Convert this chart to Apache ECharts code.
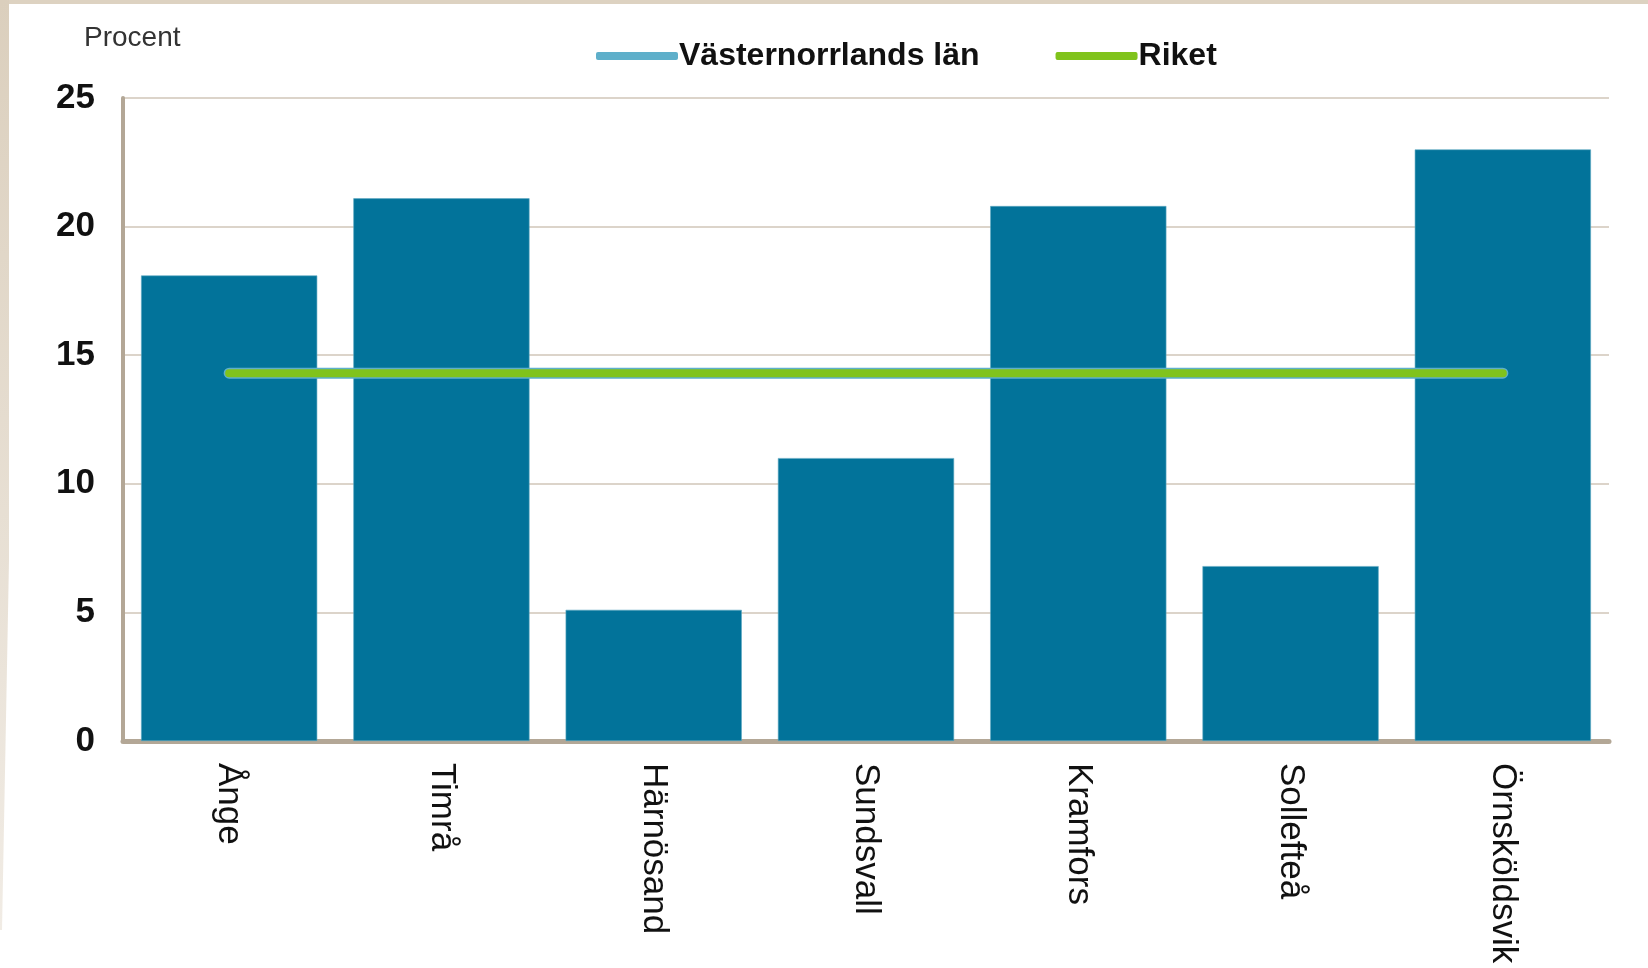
<!DOCTYPE html>
<html>
<head>
<meta charset="utf-8">
<script src="https://cdn.jsdelivr.net/npm/echarts@6/dist/echarts.min.js"></script>
<style>
  html, body { margin: 0; padding: 0; background: #ffffff; }
  #chart { width: 1648px; height: 968px; }
</style>
</head>
<body>
<div id="chart"></div>
<script>
var categories = ['Ånge', 'Timrå', 'Härnösand', 'Sundsvall', 'Kramfors', 'Sollefteå', 'Örnsköldsvik'];
var kommunValues = [18.1, 21.1, 5.1, 11.0, 20.8, 6.8, 23.0];
var lanValues = [14.3, 14.3, 14.3, 14.3, 14.3, 14.3, 14.3];
var riketValues = [14.3, 14.3, 14.3, 14.3, 14.3, 14.3, 14.3];
var yTicks = [0, 5, 10, 15, 20, 25];

var BAR_COLOR = '#02739a';
var LAN_COLOR = '#5eafca';
var RIKET_COLOR = '#80c31c';
var FRAME = '#ddd2c1';

var myChart = echarts.init(document.getElementById('chart'));

var option = {
    backgroundColor: '#ffffff',
    animation: false,
    textStyle: { fontFamily: 'Liberation Sans, Arial, sans-serif' },
    title: {
        text: 'Procent',
        left: 79,
        top: 19,
        textStyle: { fontSize: 28, fontWeight: 'normal', color: '#333333' }
    },
    legend: {
        data: [
            { name: 'Västernorrlands län', icon: 'roundRect' },
            { name: 'Riket', icon: 'roundRect' }
        ],
        left: 591,
        top: 35,
        itemWidth: 82,
        itemHeight: 8,
        itemGap: 76,
        textStyle: { fontSize: 32, fontWeight: 'bold', color: '#111111', padding: [0, 0, 0, -4] }
    },
    grid: { left: 123, right: 39, top: 98, bottom: 227, containLabel: false },
    xAxis: {
        type: 'category',
        data: categories,
        axisLine: { show: true, lineStyle: { color: '#b3a796', width: 5 } },
        axisTick: { show: false },
        axisLabel: { rotate: -90, margin: 22, fontSize: 35, color: '#111111', interval: 0 }
    },
    yAxis: {
        type: 'value',
        min: yTicks[0],
        max: yTicks[yTicks.length - 1],
        interval: 5,
        axisLine: { show: true, lineStyle: { color: '#b3a796', width: 4 } },
        axisTick: { show: false },
        axisLabel: { margin: 28, fontSize: 35, fontWeight: 'bold', color: '#111111' },
        splitLine: { lineStyle: { color: '#dcd4ca', width: 2 } }
    },
    graphic: [
        { type: 'rect', shape: { x: 0, y: 0, width: 1648, height: 4 }, style: { fill: FRAME }, z: 100 },
        {
            type: 'polygon',
            shape: { points: [[0, 0], [9, 0], [9, 560], [2, 930], [0, 930]] },
            style: {
                fill: new echarts.graphic.LinearGradient(0, 0, 0, 1, [
                    { offset: 0, color: '#dbcfbd' },
                    { offset: 1, color: '#f1ece5' }
                ])
            },
            z: 100
        }
    ],
    series: [
        {
            name: 'Kommun',
            type: 'bar',
            data: kommunValues,
            barCategoryGap: '17%',
            itemStyle: { color: BAR_COLOR, borderColor: '#5fa9c2', borderWidth: 0.6 },
            z: 2
        },
        {
            name: 'Västernorrlands län',
            type: 'line',
            data: lanValues,
            symbol: 'none',
            itemStyle: { color: LAN_COLOR },
            lineStyle: { color: LAN_COLOR, width: 11, cap: 'round' },
            z: 3
        },
        {
            name: 'Riket',
            type: 'line',
            data: riketValues,
            symbol: 'none',
            itemStyle: { color: RIKET_COLOR },
            lineStyle: { color: RIKET_COLOR, width: 8, cap: 'round' },
            z: 4
        }
    ]
};

myChart.setOption(option);
</script>
</body>
</html>
